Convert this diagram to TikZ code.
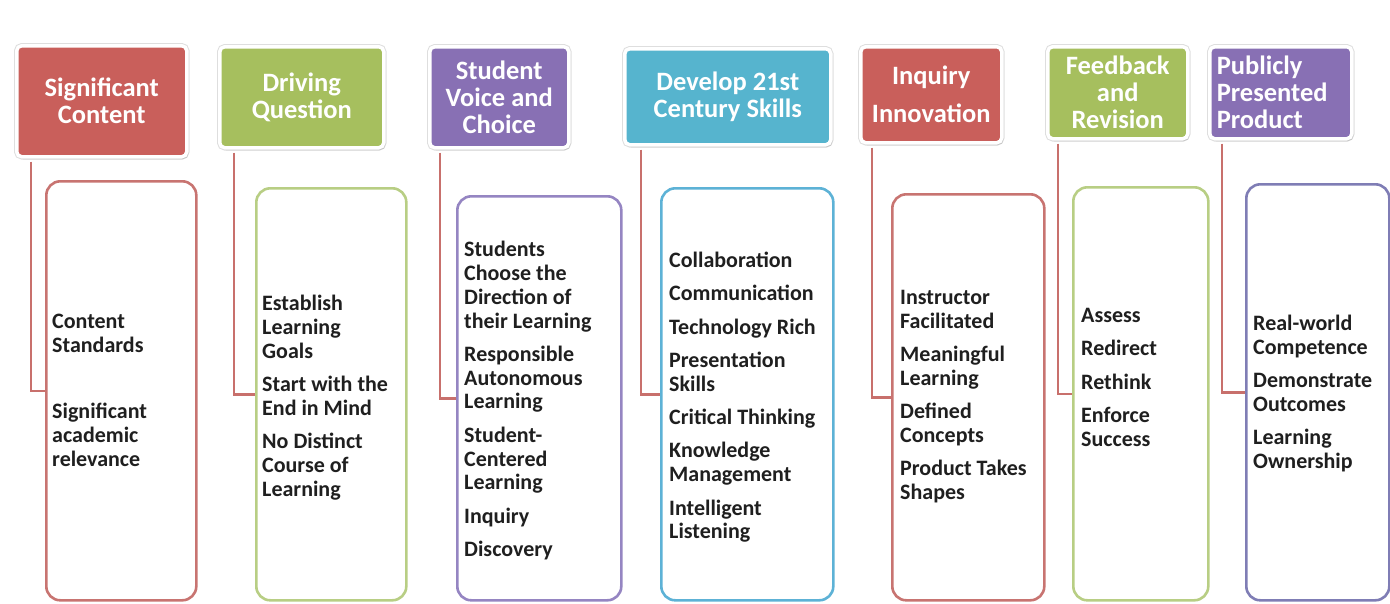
\documentclass[tikz,border=0pt]{standalone}
\usepackage{fontspec}
\setmainfont{Carlito}
\usepackage{tikz}
\usetikzlibrary{shadows}

\definecolor{redhead}{HTML}{C95F5B}
\definecolor{greenhead}{HTML}{A6BF5E}
\definecolor{purplehead}{HTML}{8870B4}
\definecolor{bluehead}{HTML}{56B4CE}
\definecolor{redline}{HTML}{C87471}
\definecolor{greenline}{HTML}{B8CE84}
\definecolor{purpleline}{HTML}{9585C2}
\definecolor{blueline}{HTML}{5DB2D6}
\definecolor{slateline}{HTML}{7F7DB5}
\definecolor{linkline}{HTML}{C8706C}

\begin{document}
\begin{tikzpicture}[x=1pt,y=-1pt]
\tikzstyle{every node}+=[inner sep=0pt]
\tikzstyle{head}=[anchor=north west, rounded corners=5pt, preaction={draw=black!13, line width=5.5pt}, draw=white, line width=3.5pt, drop shadow={opacity=0.25,shadow xshift=1.5pt,shadow yshift=-2.5pt}, text=white, font=\fontsize{26.5}{27}\selectfont\bfseries, align=center]
\tikzstyle{card}=[anchor=north west, rounded corners=14pt, line width=2.6pt, fill=white]
\tikzstyle{items}=[anchor=north west, align=left, font=\fontsize{22}{23.8}\selectfont\bfseries, text=black!88]
\tikzstyle{link}=[linkline, line width=2.6pt]

\useasboundingbox (0,0) rectangle (1390,603);

% header boxes
\node[head, fill=redhead, minimum width=170, minimum height=111] (h1) at (15,44) {Significant\\Content};
\node[head, fill=greenhead, minimum width=164, minimum height=101] (h2) at (218,45) {Driving\\Question};
\node[head, fill=purplehead, minimum width=139, minimum height=101] (h3) at (428,45) {Student\\Voice and\\Choice};
\node[head, fill=bluehead, minimum width=206, minimum height=96] (h4) at (623,47) {Develop 21st\\Century Skills};
\node[head, fill=redhead, minimum width=141, minimum height=96] (h5) at (859,45) {Inquiry\\[11pt]Innovation};
\node[head, fill=greenhead, minimum width=140, minimum height=92] (h6) at (1046,45) {Feedback\\and\\Revision};
\node[head, fill=purplehead, minimum width=142, minimum height=92, align=left, text width=128pt] (h7) at (1208,45) {Publicly\\Presented\\Product};

% lower boxes
\node[card, draw=redline, minimum width=150, minimum height=419] (b1) at (45,180) {};
\node[card, draw=greenline, minimum width=150, minimum height=412] (b2) at (255,187) {};
\node[card, draw=purpleline, minimum width=164, minimum height=404] (b3) at (456,195) {};
\node[card, draw=blueline, minimum width=172, minimum height=412] (b4) at (660,187) {};
\node[card, draw=redline, minimum width=152, minimum height=406] (b5) at (891,193) {};
\node[card, draw=greenline, minimum width=135, minimum height=413] (b6) at (1072,186) {};
\node[card, draw=slateline, minimum width=143, minimum height=416] (b7) at (1245,183) {};

% connectors
\draw[link] ([xshift=16pt,yshift=-3pt]h1.south west) |- (b1.west);
\draw[link] ([xshift=16pt,yshift=-3pt]h2.south west) |- (b2.west);
\draw[link] ([xshift=12pt,yshift=-3pt]h3.south west) |- (b3.west);
\draw[link] ([xshift=18pt,yshift=-3pt]h4.south west) |- (b4.west);
\draw[link] ([xshift=13pt,yshift=-3pt]h5.south west) |- (b5.west);
\draw[link] ([xshift=12pt,yshift=-3pt]h6.south west) |- (b6.west);
\draw[link] ([xshift=14pt,yshift=-3pt]h7.south west) |- (b7.west);

% box texts
\node[items] (t1) at (52,314) {Content\\Standards\\[42.5pt]Significant\\academic\\relevance};
\node[items] (t2) at (262,295) {Establish\\Learning\\Goals\\[9.5pt]Start with the\\End in Mind\\[9.5pt]No Distinct\\Course of\\Learning};
\node[items] (t3) at (464,241) {Students\\Choose the\\Direction of\\their Learning\\[9.5pt]Responsible\\Autonomous\\Learning\\[9.5pt]Student-\\Centered\\Learning\\[9.5pt]Inquiry\\[9.5pt]Discovery};
\node[items] (t4) at (669,252) {Collaboration\\[9.5pt]Communication\\[9.5pt]Technology Rich\\[9.5pt]Presentation\\Skills\\[9.5pt]Critical Thinking\\[9.5pt]Knowledge\\Management\\[9.5pt]Intelligent\\Listening};
\node[items] (t5) at (900,290) {Instructor\\Facilitated\\[9.5pt]Meaningful\\Learning\\[9.5pt]Defined\\Concepts\\[9.5pt]Product Takes\\Shapes};
\node[items] (t6) at (1081,308) {Assess\\[9.5pt]Redirect\\[9.5pt]Rethink\\[9.5pt]Enforce\\Success};
\node[items] (t7) at (1253,315) {Real-world\\Competence\\[9.5pt]Demonstrate\\Outcomes\\[9.5pt]Learning\\Ownership};
\end{tikzpicture}
\end{document}
